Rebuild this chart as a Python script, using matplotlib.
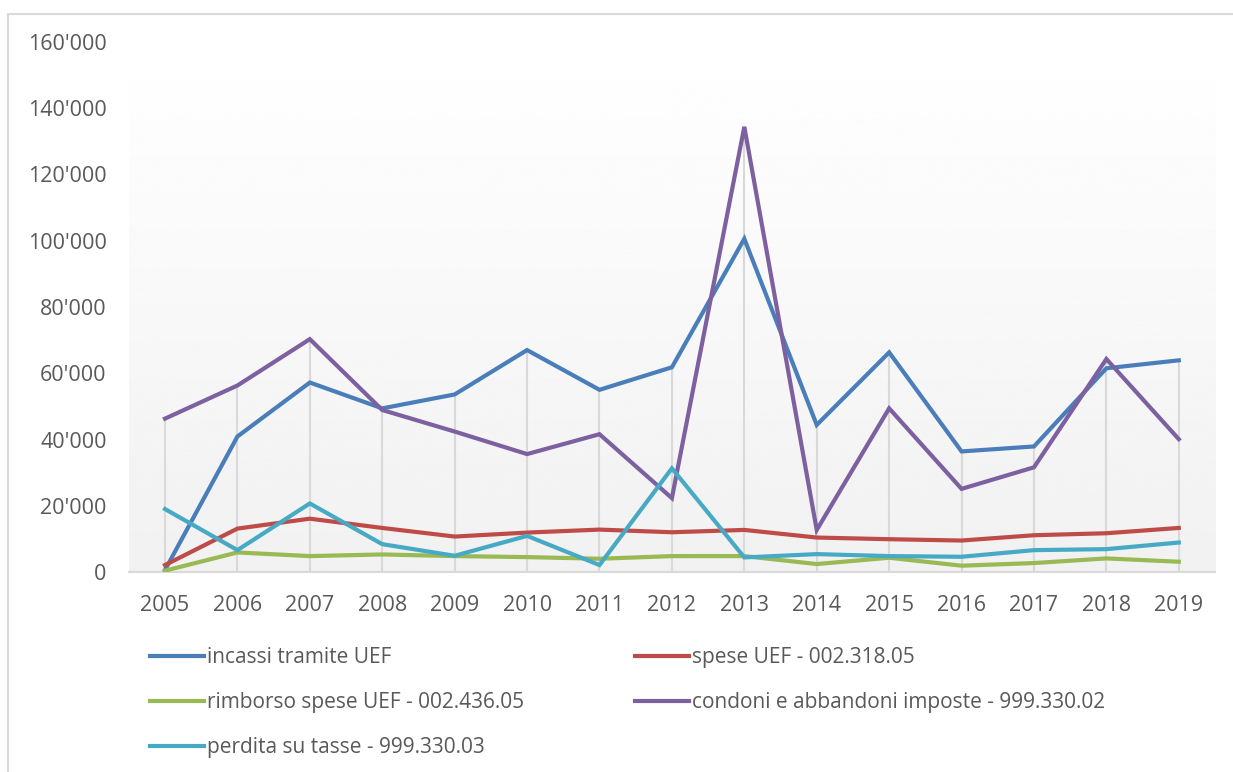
import numpy as np
import matplotlib
matplotlib.use("Agg")
import matplotlib.pyplot as plt
from matplotlib.patches import Rectangle
from matplotlib.ticker import FuncFormatter

plt.rcParams['font.family'] = ['Open Sans', 'DejaVu Sans']

# anni e serie
years = [str(y) for y in range(2005, 2020)]
incassi = [600, 40900, 57200, 49400, 53600, 67000, 55000, 61800, 100600,
           44400, 66300, 36400, 37900, 61500, 63900]
spese = [2100, 13100, 16100, 13300, 10700, 11900, 12800, 12000, 12700,
         10400, 9900, 9500, 11100, 11700, 13300]
rimborso = [400, 5900, 4800, 5300, 4800, 4500, 4000, 4800, 4800,
            2400, 4300, 1900, 2700, 4100, 3100]
condoni = [46300, 56300, 70300, 48900, 42400, 35600, 41600, 22300, 134400,
           12700, 49400, 25100, 31600, 64300, 40100]
perdita = [19000, 6600, 20700, 8400, 4900, 10900, 2100, 31300, 4400,
           5400, 4800, 4600, 6600, 6900, 8900]

labels = ["incassi tramite UEF", "spese UEF - 002.318.05",
          "rimborso spese UEF - 002.436.05",
          "condoni e abbandoni imposte - 999.330.02",
          "perdita su tasse - 999.330.03"]
colors = ["#4a7ebb", "#be4b48", "#98b954", "#7d60a0", "#46aac5"]
series = [incassi, spese, rimborso, condoni, perdita]

fig = plt.figure(figsize=(12.33, 7.72), dpi=100)
ax = fig.add_axes([128.8 / 1233, 1 - 572 / 772, (1215 - 128.8) / 1233, 530 / 772])

x = np.arange(len(years))
ymax = 160000

# sfondo sfumato dell'area del grafico
grad = np.linspace(1.0, 0.945, 256).reshape(-1, 1)
ax.imshow(grad, cmap='gray', vmin=0, vmax=1, aspect='auto',
          extent=[-0.5, len(years) - 0.5, 0, ymax], zorder=0)

# linee verticali dal massimo all'asse
tops = np.max(np.array(series), axis=0)
ax.vlines(x, 0, tops, color='#d9d9d9', lw=1.5, zorder=1)

lines = []
for vals, c, lab in zip(series, colors, labels):
    ln, = ax.plot(x, vals, color=c, lw=3, label=lab, zorder=3,
                  solid_joinstyle='miter')
    lines.append(ln)

ax.set_xlim(-0.5, len(years) - 0.5)
ax.set_ylim(0, ymax)
ax.set_yticks(np.arange(0, 160001, 20000))
ax.yaxis.set_major_formatter(FuncFormatter(lambda v, p: f"{int(v):,}".replace(",", "'")))
ax.set_xticks(x)
ax.set_xticklabels(years)
ax.tick_params(axis='both', length=0, labelsize=15.5, colors='#595959')
ax.tick_params(axis='y', pad=16)
ax.tick_params(axis='x', pad=16.5)
for s in ['top', 'right', 'left']:
    ax.spines[s].set_visible(False)
ax.spines['bottom'].set_color('#d9d9d9')
ax.spines['bottom'].set_linewidth(1.5)

# legenda in due colonne (righe: 0-1, 2-3, 4)
leg_kw = dict(loc='upper left', frameon=False, fontsize=15, handlelength=2.6,
              handletextpad=0.15, labelspacing=1.15, borderpad=0, borderaxespad=0,
              labelcolor='#595959')
fig.legend([lines[0], lines[2], lines[4]], [labels[0], labels[2], labels[4]],
           bbox_to_anchor=(150 / 1233, 1 - 647 / 772), **leg_kw)
fig.legend([lines[1], lines[3]], [labels[1], labels[3]],
           bbox_to_anchor=(635 / 1233, 1 - 647 / 772), **leg_kw)

# bordo del grafico
fig.patches.append(Rectangle((8 / 1233, -0.01), 1.0, 1 - 14 / 772 + 0.01,
                             transform=fig.transFigure, fill=False,
                             edgecolor='#d9d9d9', lw=1.5))

fig.savefig("out.png", dpi=100)
